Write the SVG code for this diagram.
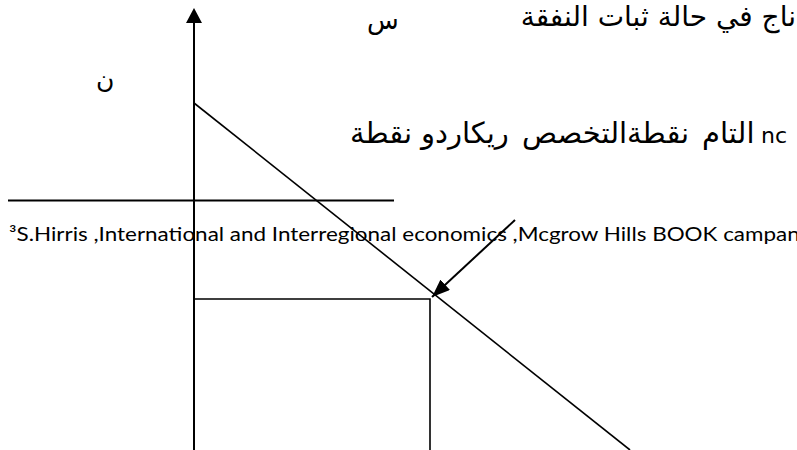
<svg xmlns="http://www.w3.org/2000/svg" width="797" height="450" viewBox="0 0 797 450">
<style>
.ln{stroke:#000;fill:none;stroke-linecap:butt}
.ar{font-family:"DejaVu Sans",sans-serif;fill:#000}
.l2{font-size:29px}
.en{font-family:Lato,"Open Sans",sans-serif;fill:#000}
</style>
<defs>
<marker id="ah" viewBox="0 0 18 14" refX="18" refY="7" markerWidth="18" markerHeight="14" markerUnits="userSpaceOnUse" orient="auto">
<path d="M0,0 L18,7 L0,14 Z" fill="#000"/>
</marker>
</defs>
<rect width="797" height="450" fill="#fff"/>
<g id="connectors">
<line id="y-axis" class="ln" x1="194" y1="450" x2="194" y2="20" stroke-width="2"/>
<path d="M194,8 L186,23 L202,23 Z" fill="#000"/>
<line id="top-line" class="ln" x1="8" y1="200.5" x2="394" y2="200.5" stroke-width="2"/>
<line id="ppf" class="ln" x1="194" y1="103" x2="630" y2="450" stroke-width="1.6"/>
<polyline id="guide" class="ln" points="194,299 430,299 430,450" stroke-width="1.6"/>
<line id="pointer" class="ln" x1="515" y1="220" x2="432" y2="297" stroke-width="2" marker-end="url(#ah)"/>
</g>
<g id="labels">
<text class="ar" x="796" y="26" font-size="28" direction="rtl" text-anchor="start">ناج في حالة ثبات النفقة</text>
<text class="ar" x="367" y="29" font-size="26">س</text>
<text class="ar" x="96" y="88" font-size="25">ن</text>
<g id="point-label">
<text class="ar l2" x="350" y="143">نقطة</text>
<text class="ar l2" x="421" y="143">ريكاردو</text>
<text class="ar l2" x="522" y="143">نقطةالتخصص</text>
<text class="ar l2" x="702" y="143">التام</text>
<text class="ar" x="787" y="143" font-size="22" text-anchor="end">nc</text>
</g>
<text class="en" x="9" y="241" font-size="19.5" textLength="802" lengthAdjust="spacingAndGlyphs">³S.Hirris ,International and Interregional economics ,Mcgrow Hills BOOK campany</text>
</g>
</svg>
